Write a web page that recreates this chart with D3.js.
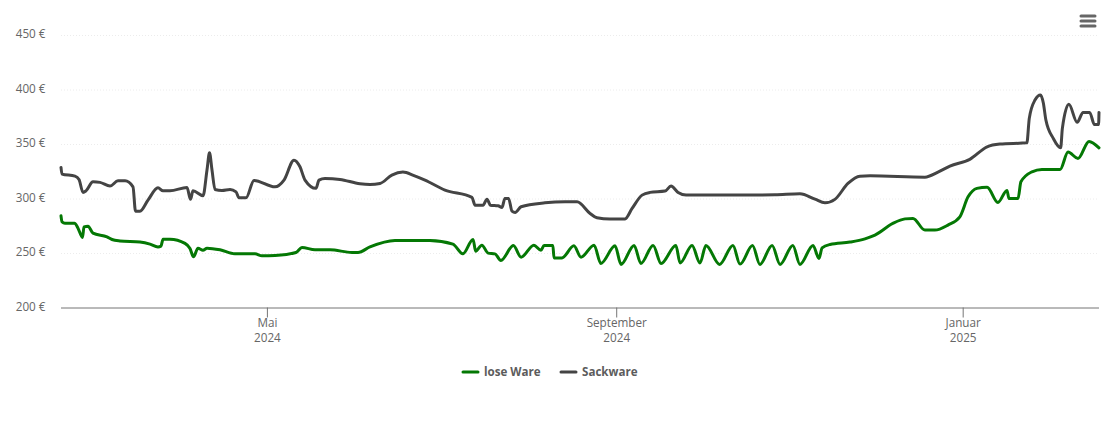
<!DOCTYPE html>
<html>
<head>
<meta charset="utf-8">
<script src="https://cdn.jsdelivr.net/npm/d3@7"></script>
<style>
  html, body { margin: 0; padding: 0; background: #fff; }
  text { font-family: "Open Sans", sans-serif; }
</style>
</head>
<body>
<div id="chart"></div>
<script>
// days counted from the first point of the chart (18 Feb 2024, noon)
const firstDay = Date.UTC(2024, 1, 18, 12);
const lastDayOffset = 365.5;

const looseDays = [0, 0.35, 1.41, 4.75, 5.99, 7.57, 8.1, 9.51, 11.27, 16.2, 17.96, 20.77, 27.82, 31.34, 34.15, 35.21, 35.92, 38.38, 43.66, 45.42, 46.65, 48.24, 50, 51.41, 55.99, 61.27, 68.31, 70.77, 75.35, 82.75, 84.86, 89.44, 94.72, 102.46, 104.58, 108.8, 117.6, 129.9, 138, 141.5, 145.1, 146, 148.2, 150.4, 152.8, 154.9, 159.3, 162, 166.5, 169, 170.1, 173.2, 173.6, 176.4, 180.6, 183.1, 187.7, 190.1, 195.1, 197.2, 201.8, 204.2, 208.5, 211.3, 216.5, 218, 222.2, 225, 227.1, 231.9, 236.6, 239.1, 243.5, 246.1, 250.4, 253.2, 257.7, 260.2, 264.8, 266.9, 268, 270.8, 277.8, 283.1, 286.6, 292.9, 297.2, 300, 304.2, 307.7, 312.3, 316.5, 319.4, 322.5, 326.1, 329.9, 333.1, 333.8, 337, 338, 341.9, 345.4, 351.8, 354.6, 358.1, 362, 365.5];
const looseValues = [284.1, 278.6, 277.4, 277.4, 272.8, 264.3, 274, 274.6, 268.2, 264.8, 262.4, 261.1, 260, 258.1, 255.6, 256.3, 262.7, 262.7, 258.8, 254.2, 246.5, 254.4, 252.6, 254.4, 252.9, 249.2, 249.2, 247.4, 247.7, 250.5, 255.1, 252.9, 252.9, 250.5, 250.5, 255.6, 261.5, 261.5, 258.1, 249.2, 262.4, 251.7, 257.2, 249.9, 249.2, 243.2, 256.9, 246.2, 257.2, 252.6, 256.9, 256.9, 245.5, 245.5, 256.6, 246.2, 257.2, 240.4, 256.6, 239.5, 256.9, 240.4, 256.9, 240.4, 256.9, 240.9, 256.9, 240.9, 256.9, 239.5, 256.9, 239.8, 256.9, 239.5, 256.9, 239.5, 256.9, 239.5, 256.9, 245, 254.7, 257.8, 260, 263, 266.4, 277.1, 281.3, 281.7, 271, 271, 275.6, 283.2, 301.5, 309.3, 310.4, 296.4, 307.4, 300.1, 300.1, 315.3, 324.5, 326.7, 326.7, 342.6, 336.8, 352.4, 346.5];

const sackDays = [0, 0.35, 4.93, 6.34, 7.75, 8.8, 11.27, 13.73, 17.25, 20.07, 22.54, 25.35, 26.23, 27.82, 30.63, 34.15, 35.92, 38.38, 44.37, 45.6, 46.48, 50, 51.41, 52.29, 53.17, 54.23, 56.69, 59.51, 61.62, 62.68, 65.14, 67.96, 75.35, 78.52, 82.04, 84.15, 85.92, 89.79, 90.85, 92.96, 98.24, 105.28, 108.8, 112.32, 116.5, 120.4, 124.3, 128.17, 135.2, 144.7, 145.8, 148.6, 150, 151.2, 153.9, 155.3, 156.3, 157.6, 158.8, 159.9, 162, 170.4, 177.5, 181.7, 186.3, 188.7, 193.3, 198.6, 201.1, 204.6, 207.4, 212.7, 214.8, 217.3, 220.1, 239.1, 251.4, 260.2, 265.5, 269, 272.5, 277.1, 281.3, 284.9, 304.2, 308.8, 313, 320, 326.1, 330.6, 340.1, 340.95, 342.96, 344.9, 345.9, 346.8, 349.4, 352, 352.6, 354.9, 357.8, 359.9, 362.2, 363.9, 365.35, 365.5];
const sackValues = [328.5, 322.4, 320.5, 317.5, 305.6, 307, 315.3, 314.8, 311.4, 316.2, 316.2, 310.7, 288.4, 288.4, 298.5, 309.8, 307, 307, 310.2, 299.2, 307, 302.5, 326.1, 341.9, 326.1, 308.3, 307.4, 308.3, 306.1, 300.6, 300.6, 316.6, 310.7, 316.9, 335.2, 329.1, 316.9, 309.3, 316.9, 318.4, 317.5, 313.5, 312.9, 313.8, 321.5, 324.2, 321, 316.9, 307.7, 301, 293.9, 293.9, 299.4, 293.9, 293.3, 291.8, 300.1, 300.1, 288.4, 287.2, 292.4, 296, 297, 297, 286.3, 282.3, 281.1, 281.3, 290.9, 303.1, 305.6, 306.8, 311.4, 305.6, 303.1, 303.1, 303.4, 304.3, 299.4, 296, 299.2, 313.8, 320.5, 320.8, 319.6, 324.2, 329.7, 335.9, 347.4, 349.9, 351.1, 373.5, 390.3, 394.9, 387.6, 372, 355.2, 346.5, 364.3, 386.4, 369.9, 379, 379, 367.8, 367.8, 379];

const yTicks = [200, 250, 300, 350, 400, 450];
const xTickDates = [Date.UTC(2024, 4, 1), Date.UTC(2024, 8, 1), Date.UTC(2025, 0, 1)];
const xTickLabels = [["Mai", "2024"], ["September", "2024"], ["Januar", "2025"]];

const seriesNames = ["lose Ware", "Sackware"];
const seriesColors = ["#047804", "#444444"];

const toDate = d => new Date(firstDay + d * 864e5);

const width = 1110, height = 422;
const plotLeft = 61, plotRight = 1099, plotTop = 35, plotBottom = 307.5;

const svg = d3.select("#chart").append("svg")
  .attr("width", width)
  .attr("height", height)
  .style("display", "block");

const x = d3.scaleUtc()
  .domain([toDate(0), toDate(lastDayOffset)])
  .range([plotLeft, plotRight]);
const y = d3.scaleLinear()
  .domain([200, 450])
  .range([plotBottom, plotTop]);

// y axis with dotted grid
const yAxis = svg.append("g")
  .attr("transform", `translate(${plotLeft},0)`)
  .call(d3.axisLeft(y).tickValues(yTicks).tickSize(0).tickPadding(15.5).tickFormat(d => d + " €"));
yAxis.select(".domain").remove();
yAxis.selectAll("text")
  .attr("fill", "#666")
  .attr("y", -1)
  .style("font-size", "11.7px")
  .style("font-family", '"Open Sans", sans-serif');
yAxis.selectAll(".tick line")
  .filter(d => d !== 200)
  .attr("x2", plotRight - plotLeft)
  .attr("stroke", "#ececec")
  .attr("stroke-dasharray", "1,2");

// x axis
const xAxis = svg.append("g")
  .attr("transform", `translate(0,${plotBottom})`)
  .call(d3.axisBottom(x).tickValues(xTickDates.map(d => new Date(d))).tickSize(10).tickFormat(""));
xAxis.select(".domain")
  .attr("d", `M${plotLeft},0.5H${plotRight}`)
  .attr("stroke", "#757575");
xAxis.selectAll(".tick line").attr("stroke", "#757575");
xAxis.selectAll(".tick text").remove();
xAxis.selectAll(".tick").each(function (d, i) {
  const label = d3.select(this).append("text")
    .attr("fill", "#666")
    .attr("text-anchor", "middle")
    .style("font-size", "11.7px")
    .style("font-family", '"Open Sans", sans-serif');
  xTickLabels[i].forEach((part, j) => {
    label.append("tspan").attr("x", 0).attr("y", 19.5 + j * 14.5).text(part);
  });
});

// series
const line = d3.line()
  .x(d => x(toDate(d[0])))
  .y(d => y(d[1]))
  .curve(d3.curveMonotoneX);

[[looseDays, looseValues], [sackDays, sackValues]].forEach((s, i) => {
  svg.append("path")
    .datum(d3.zip(s[0], s[1]))
    .attr("fill", "none")
    .attr("stroke", seriesColors[i])
    .attr("stroke-width", 3)
    .attr("stroke-linejoin", "round")
    .attr("stroke-linecap", "round")
    .attr("d", line);
});

// legend
const legendItems = [[463, 484], [561, 582]];
const legend = svg.append("g").attr("transform", "translate(0,372)");
seriesNames.forEach((name, i) => {
  legend.append("line")
    .attr("x1", legendItems[i][0]).attr("x2", legendItems[i][0] + 15)
    .attr("stroke", seriesColors[i])
    .attr("stroke-width", 3)
    .attr("stroke-linecap", "round");
  legend.append("text")
    .attr("x", legendItems[i][1])
    .attr("y", 4)
    .attr("fill", "#5c5c5c")
    .style("font-size", "11.6px")
    .style("font-weight", "bold")
    .text(name);
});

// menu button
svg.append("g").selectAll("line")
  .data([16, 21, 26])
  .join("line")
  .attr("x1", 1081).attr("x2", 1095)
  .attr("y1", d => d).attr("y2", d => d)
  .attr("stroke", "#666")
  .attr("stroke-width", 3)
  .attr("stroke-linecap", "round");
</script>
</body>
</html>
